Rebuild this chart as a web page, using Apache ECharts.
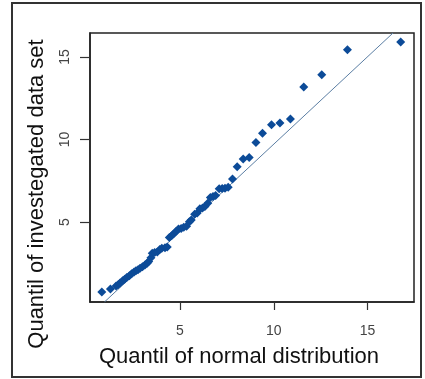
<!DOCTYPE html>
<html>
<head>
<meta charset="utf-8">
<script src="https://cdn.jsdelivr.net/npm/echarts@6/dist/echarts.min.js"></script>
<style>
html,body{margin:0;padding:0;background:#fff;}
#chart{width:425px;height:379px;}
</style>
</head>
<body>
<div id="chart"></div>
<script>
// Theoretical (normal) quantiles
var normalQ = [0.83,1.29,1.59,1.70,1.80,1.94,2.05,2.16,2.30,2.42,2.55,2.65,2.76,2.87,3.00,3.13,3.25,3.33,3.45,3.52,
  3.65,3.79,3.92,4.03,4.20,4.32,4.43,4.55,4.66,4.80,4.92,5.06,5.20,5.35,5.50,5.60,5.78,5.92,6.06,6.20,
  6.33,6.48,6.62,6.76,6.90,7.09,7.25,7.40,7.57,7.80,8.05,8.37,8.69,9.05,9.40,9.88,10.33,10.89,11.60,12.56,
  13.93,16.77];
// Sample quantiles of the investigated data set
var sampleQ = [0.78,0.95,1.14,1.22,1.32,1.46,1.55,1.66,1.76,1.88,1.98,2.06,2.12,2.21,2.30,2.41,2.52,2.62,2.85,3.12,
  3.16,3.20,3.35,3.42,3.46,3.50,4.08,4.18,4.30,4.45,4.59,4.62,4.70,4.76,5.02,5.14,5.48,5.55,5.82,5.86,
  5.95,6.15,6.50,6.55,6.62,7.02,7.04,7.06,7.12,7.61,8.35,8.82,8.92,9.82,10.39,10.90,11.00,11.24,13.18,13.93,
  15.44,15.91];
// Reference line (two ends)
var lineX = [0.97, 16.36];
var lineY = [0.17, 16.45];
var xTicks = [5, 10, 15];
var yTicks = [5, 10, 15];
var xRange = [0.2, 17.48];
var yRange = [0.17, 16.45];

var pts = normalQ.map(function(v, i){ return [v, sampleQ[i]]; });
var linePts = lineX.map(function(v, i){ return [v, lineY[i]]; });

var chart = echarts.init(document.getElementById('chart'), null, {renderer:'canvas'});
var FONT = '"Liberation Sans", Arial, sans-serif';
chart.setOption({
  animation: false,
  backgroundColor: '#fff',
  grid: {left: 90, top: 33, width: 324, height: 269, show: true, borderColor: '#222', borderWidth: 1.5, containLabel: false},
  xAxis: {
    type: 'value', min: xRange[0], max: xRange[1],
    splitLine: {show: false},
    axisLine: {show: true, onZero: false, lineStyle: {color: '#222', width: 1.5}},
    axisTick: {show: true, length: 8, customValues: xTicks, lineStyle: {color: '#333', width: 1.2}},
    axisLabel: {show: true, customValues: xTicks, margin: 22, color: '#444', fontSize: 14, fontFamily: FONT}
  },
  yAxis: {
    type: 'value', min: yRange[0], max: yRange[1],
    splitLine: {show: false},
    axisLine: {show: true, onZero: false, lineStyle: {color: '#222', width: 1.5}},
    axisTick: {show: true, length: 10, customValues: yTicks, lineStyle: {color: '#333', width: 1.2}},
    axisLabel: {show: true, customValues: yTicks, rotate: 90, margin: 18, color: '#444', fontSize: 14, fontFamily: FONT}
  },
  series: [
    {
      type: 'line', data: linePts, symbol: 'none', clip: true,
      lineStyle: {color: '#5b7ea3', width: 1}, z: 2
    },
    {
      type: 'scatter', data: pts, symbol: 'diamond', symbolSize: 9,
      itemStyle: {color: '#0c4b98', opacity: 1}, z: 3
    }
  ],
  graphic: [
    {type: 'rect', shape: {x: 12, y: 3, width: 409, height: 374}, style: {fill: null, stroke: '#333', lineWidth: 2}, silent: true},
    {type: 'text', x: 239, y: 357, style: {text: 'Quantil of normal distribution', font: '22px ' + FONT, fill: '#111', textAlign: 'center', textVerticalAlign: 'middle'}},
    {type: 'text', x: 37, y: 194, rotation: Math.PI / 2, style: {text: 'Quantil of investegated data set', font: '22px ' + FONT, fill: '#111', textAlign: 'center', textVerticalAlign: 'middle'}}
  ]
});
</script>
</body>
</html>
